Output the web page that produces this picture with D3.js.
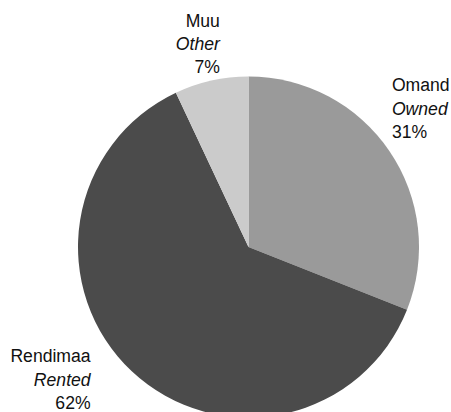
<!DOCTYPE html>
<html>
<head>
<meta charset="utf-8">
<script src="https://cdn.jsdelivr.net/npm/d3@7"></script>
<style>
  body { margin: 0; background: #fff; }
  text { font-family: "Liberation Sans", Arial, Helvetica, sans-serif; font-size: 17.6px; fill: #111; }
</style>
</head>
<body>
<div id="chart"></div>
<script>
// data
const labelsLocal = ["Omand", "Rendimaa", "Muu"];
const labelsEnglish = ["Owned", "Rented", "Other"];
const shares = [31, 62, 7];
const sliceColors = ["#9a9a9a", "#4b4b4b", "#cbcbcb"];

const width = 451,
  height = 412,
  radius = 170.5;
const cx = 248.5,
  cy = 247;

// hand tuned label shifts (px) so text sits like the original
const labelNudge = [[-22, -20], [-21, -7], [15, -2]];

const svg = d3
  .select("#chart")
  .append("svg")
  .attr("width", width)
  .attr("height", height);

const g = svg.append("g").attr("transform", `translate(${cx},${cy})`);

const pie = d3.pie().sort(null).value((d) => d);
const arc = d3.arc().innerRadius(0).outerRadius(radius);
const labelArc = d3.arc().innerRadius(200).outerRadius(200);

const arcs = pie(shares);

g.selectAll("path")
  .data(arcs)
  .enter()
  .append("path")
  .attr("d", arc)
  .attr("fill", (d, i) => sliceColors[i]);

const lineH = 23.3;

const labels = g
  .selectAll("text")
  .data(arcs)
  .enter()
  .append("text")
  .attr("text-anchor", (d) => ((d.startAngle + d.endAngle) / 2 < Math.PI ? "start" : "end"))
  .attr("transform", (d, i) => {
    const [x, y] = labelArc.centroid(d);
    return `translate(${x + labelNudge[i][0]},${y + labelNudge[i][1]})`;
  });

labels.append("tspan").attr("x", 0).attr("y", -lineH).text((d, i) => labelsLocal[i]);
labels
  .append("tspan")
  .attr("x", 0)
  .attr("y", 0)
  .style("font-style", "italic")
  .text((d, i) => labelsEnglish[i]);
labels.append("tspan").attr("x", 0).attr("y", lineH).text((d) => d.data + "%");
</script>
</body>
</html>
